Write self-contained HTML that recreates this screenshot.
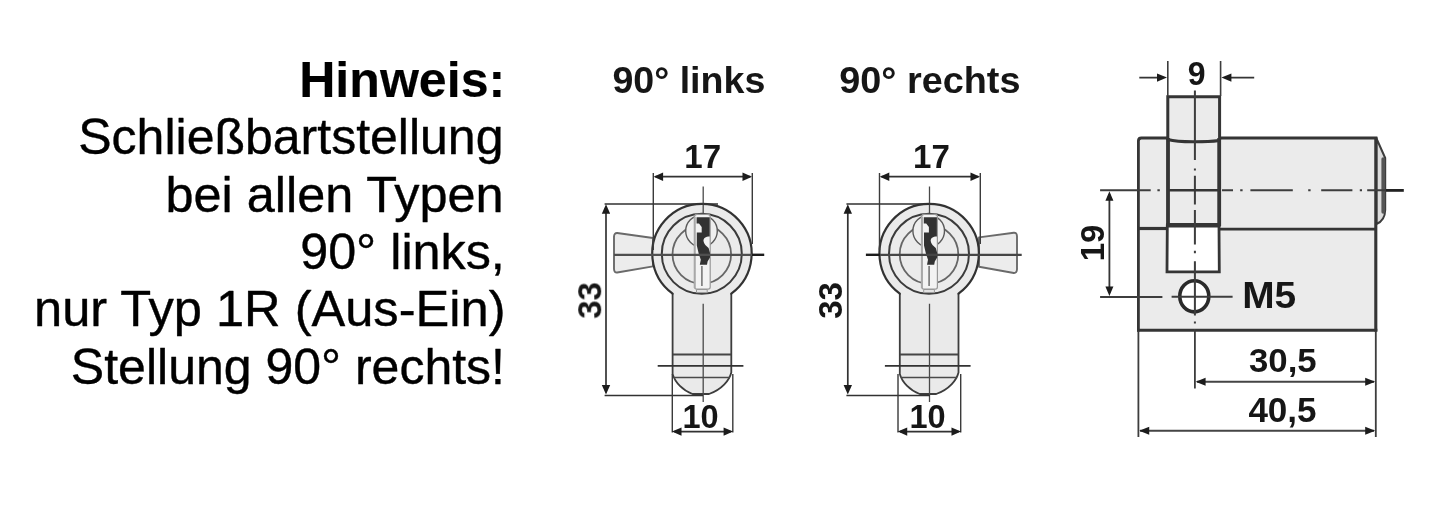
<!DOCTYPE html>
<html lang="de">
<head>
<meta charset="utf-8">
<title>Hinweis Schließbartstellung</title>
<style>
html,body{margin:0;padding:0;background:#fff;}
body{width:1429px;height:505px;overflow:hidden;}
svg{display:block;}
text{font-family:"Liberation Sans",sans-serif;fill:#161616;}
#note text{fill:#000;stroke:#000;stroke-width:0.4px;stroke-linejoin:round;}
#note text.b{stroke-width:0.15px;}
.b{font-weight:bold;}
</style>
</head>
<body>
<svg width="1429" height="505" viewBox="0 0 1429 505">
<defs>
<filter id="soft" x="0" y="0" width="1429" height="505" filterUnits="userSpaceOnUse"><feGaussianBlur stdDeviation="0.55"/></filter>
<filter id="soft2" x="0" y="0" width="1429" height="505" filterUnits="userSpaceOnUse"><feGaussianBlur stdDeviation="0.3"/></filter>
</defs>
<rect width="1429" height="505" fill="#fff"/>

<!-- ===== left note ===== -->
<g id="note" text-anchor="end" font-size="50" filter="url(#soft2)">
<text class="b" x="505.2" y="96.9" textLength="206" lengthAdjust="spacingAndGlyphs">Hinweis:</text>
<text x="503.5" y="153.9">Schließbartstellung</text>
<text x="503.5" y="211.5" textLength="338" lengthAdjust="spacingAndGlyphs">bei allen Typen</text>
<text x="504.8" y="268.7" textLength="204.6" lengthAdjust="spacingAndGlyphs">90° links,</text>
<text x="505.5" y="326.4" textLength="471.5" lengthAdjust="spacingAndGlyphs">nur Typ 1R (Aus-Ein)</text>
<text x="505" y="384.2">Stellung 90° rechts!</text>
</g>

<g id="drawings" filter="url(#soft)">
<!-- ===== drawing 1 : 90° links ===== -->
<text class="b" x="612.4" y="93.1" font-size="36.1" textLength="152.9" lengthAdjust="spacingAndGlyphs">90° links</text>
<g id="d1">
<path d="M653 238 L617.2 233 Q614.2 232.8 614 236.5 V269 Q614.2 272.8 617.2 272.5 L653 266.4 Z" fill="#ececec" stroke="#6a6a6a" stroke-width="1.9" stroke-linejoin="round"/>
<g transform="translate(0 0)">
  <path d="M672.6 293.6 A49.7 49.7 0 1 1 731.3 293.6 L731.3 372.5 C729.5 380 722 389.5 709 394 L692.5 394 C683 390.5 675 382.5 672.6 374 Z" fill="#eaeaea" stroke="none"/>
  <path d="M731.3 293.6 L731.3 372.5 C729.5 380 722 389.5 709 394 L692.5 394 C683 390.5 675 382.5 672.6 374 L672.6 293.6" fill="none" stroke="#3c3c3c" stroke-width="1.8" stroke-linejoin="round"/>
  <path d="M672.6 293.6 A49.7 49.7 0 1 1 731.3 293.6" fill="none" stroke="#333" stroke-width="2.2" stroke-linecap="round"/>
  <circle cx="701.8" cy="253.8" r="40" fill="#ebebeb" stroke="#3a3a3a" stroke-width="2"/>
  <circle cx="701.8" cy="254.3" r="29.3" fill="none" stroke="#666" stroke-width="1.8"/>
  <circle cx="701.5" cy="231" r="15.8" fill="#efefef" stroke="#5a5a5a" stroke-width="1.4"/>
  <path d="M694.6 216.5 Q694.6 214.3 697 214.3 H707.5 Q710.2 214.3 710.2 216.5 V287 Q710.2 289.2 708 289.2 H696.8 Q694.6 289.2 694.6 287 Z" fill="#f3f3f3" stroke="#989898" stroke-width="1.2"/>
  <path d="M694.7 217 V288" stroke="#a8a8a8" stroke-width="2" fill="none"/>
  <path d="M696.5 289.5 H707.2 V292.6 H696.5 Z" fill="#e2e2e2" stroke="#999" stroke-width="1"/>
  <path d="M701.9 266 V286" stroke="#777" stroke-width="1.6" fill="none"/>
  <path d="M696.6 217.3 H709.7 V236.5 C705.5 236.6 703.3 238.2 703.5 241 C703.7 244 706.5 246 708.6 248 L710 253 V257.5 L707.6 261.6 L707 264.8 H699.8 L700.8 259.8 L698.8 253.9 L696.8 245.5 V232.5 H701.7 V227 L699 223.5 H696.6 Z" fill="#333"/>
  <path d="M672.6 354.4 H731.3" stroke="#444" stroke-width="2"/>
  <path d="M674 377.5 H730" stroke="#4a4a4a" stroke-width="1.4"/>
  <path d="M657.7 365.8 H743.4" stroke="#333" stroke-width="1.7"/>
  <path d="M703.2 186.5 V214 M703.2 303.8 V402" stroke="#4a4a4a" stroke-width="1.3" fill="none"/>
</g>
<path d="M614 254.8 H752" stroke="#505050" stroke-width="2.2"/><path d="M752 254.8 H764.2" stroke="#1a1a1a" stroke-width="2.4"/>
<path d="M653.3 173 V250 M752.3 173 V244" stroke="#3a3a3a" stroke-width="1.4" fill="none"/>
<path d="M655.3 176.7 H750.3" stroke="#333" stroke-width="1.7"/>
<path d="M653.5999999999999 176.7 l9.5 -4.2 v8.4 z M752.0 176.7 l-9.5 -4.2 v8.4 z" fill="#1c1c1c"/>
<path d="M604.6 203.9 H718 M604.6 395.4 H703" stroke="#333" stroke-width="1.5" fill="none"/>
<path d="M606 207 V391" stroke="#333" stroke-width="1.7"/>
<path d="M606 204.3 l-4.2 9.5 h8.4 z M606 394.6 l-4.2 -9.5 h8.4 z" fill="#1c1c1c"/>
<path d="M672.3 374 V432.5 M732.8 374 V432.5" stroke="#3a3a3a" stroke-width="1.4" fill="none"/>
<path d="M674.3 431.6 H730.8" stroke="#333" stroke-width="1.7"/>
<path d="M672.0 431.6 l9.5 -4.2 v8.4 z M733.0999999999999 431.6 l-9.5 -4.2 v8.4 z" fill="#1c1c1c"/>
<text class="b" x="702.7" y="168.4" font-size="34" text-anchor="middle" textLength="36.8" lengthAdjust="spacingAndGlyphs">17</text>
<text class="b" x="700.6" y="428.1" font-size="32.5" text-anchor="middle">10</text>
<text class="b" font-size="34" text-anchor="middle" textLength="36.7" lengthAdjust="spacingAndGlyphs" transform="translate(601.2 300.5) rotate(-90)">33</text>
</g>

<!-- ===== drawing 2 : 90° rechts ===== -->
<text class="b" x="839.2" y="93.1" font-size="36.1" textLength="181.3" lengthAdjust="spacingAndGlyphs">90° rechts</text>
<g id="d2">
<path d="M979 237.4 L1013.8 232.7 Q1016.8 232.5 1017 236.2 V269.3 Q1016.8 273.2 1013.8 273 L979 266.8 Z" fill="#ececec" stroke="#6a6a6a" stroke-width="1.9" stroke-linejoin="round"/>
<g transform="translate(227.2 0)">
  <path d="M672.6 293.6 A49.7 49.7 0 1 1 731.3 293.6 L731.3 372.5 C729.5 380 722 389.5 709 394 L692.5 394 C683 390.5 675 382.5 672.6 374 Z" fill="#eaeaea" stroke="none"/>
  <path d="M731.3 293.6 L731.3 372.5 C729.5 380 722 389.5 709 394 L692.5 394 C683 390.5 675 382.5 672.6 374 L672.6 293.6" fill="none" stroke="#3c3c3c" stroke-width="1.8" stroke-linejoin="round"/>
  <path d="M672.6 293.6 A49.7 49.7 0 1 1 731.3 293.6" fill="none" stroke="#333" stroke-width="2.2" stroke-linecap="round"/>
  <circle cx="701.8" cy="253.8" r="40" fill="#ebebeb" stroke="#3a3a3a" stroke-width="2"/>
  <circle cx="701.8" cy="254.3" r="29.3" fill="none" stroke="#666" stroke-width="1.8"/>
  <circle cx="701.5" cy="231" r="15.8" fill="#efefef" stroke="#5a5a5a" stroke-width="1.4"/>
  <path d="M694.6 216.5 Q694.6 214.3 697 214.3 H707.5 Q710.2 214.3 710.2 216.5 V287 Q710.2 289.2 708 289.2 H696.8 Q694.6 289.2 694.6 287 Z" fill="#f3f3f3" stroke="#989898" stroke-width="1.2"/>
  <path d="M694.7 217 V288" stroke="#a8a8a8" stroke-width="2" fill="none"/>
  <path d="M696.5 289.5 H707.2 V292.6 H696.5 Z" fill="#e2e2e2" stroke="#999" stroke-width="1"/>
  <path d="M701.9 266 V286" stroke="#777" stroke-width="1.6" fill="none"/>
  <path d="M696.6 217.3 H709.7 V236.5 C705.5 236.6 703.3 238.2 703.5 241 C703.7 244 706.5 246 708.6 248 L710 253 V257.5 L707.6 261.6 L707 264.8 H699.8 L700.8 259.8 L698.8 253.9 L696.8 245.5 V232.5 H701.7 V227 L699 223.5 H696.6 Z" fill="#333"/>
  <path d="M672.6 354.4 H731.3" stroke="#444" stroke-width="2"/>
  <path d="M674 377.5 H730" stroke="#4a4a4a" stroke-width="1.4"/>
  <path d="M657.7 365.8 H743.4" stroke="#333" stroke-width="1.7"/>
  <path d="M702.3 186.5 V214 M702.3 303.8 V402" stroke="#4a4a4a" stroke-width="1.3" fill="none"/>
</g>
<path d="M865.9 254.8 H880" stroke="#1a1a1a" stroke-width="2.4"/><path d="M880 254.8 H1021.7" stroke="#444" stroke-width="2.2"/>
<path d="M879.5 173 V250 M980.3 173 V244" stroke="#3a3a3a" stroke-width="1.4" fill="none"/>
<path d="M881.5 176.7 H978.3" stroke="#333" stroke-width="1.7"/>
<path d="M879.8 176.7 l9.5 -4.2 v8.4 z M980.0 176.7 l-9.5 -4.2 v8.4 z" fill="#1c1c1c"/>
<path d="M846.4 203.9 H932 M846.4 395.4 H930" stroke="#333" stroke-width="1.5" fill="none"/>
<path d="M847.8 207 V391" stroke="#333" stroke-width="1.7"/>
<path d="M847.8 204.3 l-4.2 9.5 h8.4 z M847.8 394.6 l-4.2 -9.5 h8.4 z" fill="#1c1c1c"/>
<path d="M898 374 V432.5 M960.7 374 V432.5" stroke="#3a3a3a" stroke-width="1.4" fill="none"/>
<path d="M900 431.6 H958.7" stroke="#333" stroke-width="1.7"/>
<path d="M897.7 431.6 l9.5 -4.2 v8.4 z M961.0 431.6 l-9.5 -4.2 v8.4 z" fill="#1c1c1c"/>
<text class="b" x="931.5" y="168.4" font-size="34" text-anchor="middle" textLength="36.8" lengthAdjust="spacingAndGlyphs">17</text>
<text class="b" x="927.6" y="428.1" font-size="32.5" text-anchor="middle">10</text>
<text class="b" font-size="34" text-anchor="middle" textLength="36.7" lengthAdjust="spacingAndGlyphs" transform="translate(842.3 300.5) rotate(-90)">33</text>
</g>

<!-- ===== drawing 3 : side view ===== -->
<g id="d3">
  <!-- body -->
  <path d="M1138.4 141 Q1138.4 138 1141.4 138 H1376 V330.2 H1138.4 Z" fill="#ebebeb"/>
  <!-- end cap -->
  <path d="M1376.5 138.5 L1385.2 158 V210 Q1385 220.5 1376.5 224 Z" fill="#dcdcdc" stroke="#3c3c3c" stroke-width="2" stroke-linejoin="round"/>
  <path d="M1383.2 159 V212" stroke="#555" stroke-width="3.6" stroke-linecap="round"/>
  <!-- cam top -->
  <rect x="1168" y="97" width="51.5" height="43" fill="#ebebeb"/>
  <path d="M1167.8 140 V96.7 H1219.6 V140" fill="none" stroke="#343434" stroke-width="3"/>
  <!-- body outline -->
  <path d="M1138.4 331.5 V141 Q1138.4 138 1141.4 138 H1167 M1220.5 138 H1377.4" fill="none" stroke="#343434" stroke-width="2.8"/>
  <path d="M1137 330.2 H1377.3" stroke="#343434" stroke-width="3"/>
  <path d="M1375.8 137 V331.5" stroke="#343434" stroke-width="3.1"/>
  <!-- cam in body -->
  <path d="M1168 138 V226 M1219.2 138 V226" stroke="#343434" stroke-width="3.8" fill="none"/>
  <path d="M1167.8 139.5 C1180 142.6 1205 142.4 1219.4 140.4" stroke="#343434" stroke-width="3" fill="none"/>
  <path d="M1138.4 228.5 H1168" stroke="#343434" stroke-width="3.2"/>
  <path d="M1219.2 229.2 H1376" stroke="#343434" stroke-width="2.7"/>
  <path d="M1167.3 226 L1167 271.8 H1219.3 L1219 226 Z" fill="#fff" stroke="#343434" stroke-width="2.8" stroke-linejoin="miter"/>
  <path d="M1166.3 224.7 H1221" stroke="#343434" stroke-width="3.4"/>
  <!-- hole -->
  <ellipse cx="1194.3" cy="296.3" rx="14.5" ry="15.6" fill="#fff" stroke="#2a2a2a" stroke-width="3.6"/>
  <!-- centre lines -->
  <path d="M1194.9 90.5 V160 M1194.9 168.4 V170.4 M1194.9 175.7 V204.4 M1194.9 209.9 V244.5 M1194.9 250.7 V253.2 M1194.9 261.3 V315.5 M1194.9 321.4 V323.4" stroke="#3c3c3c" stroke-width="2" fill="none"/>
  <path d="M1194.9 329 V388.5" stroke="#3c3c3c" stroke-width="1.8" fill="none"/>
  <path d="M1100.1 190.2 H1150.7 M1157.4 190.2 H1159.8 M1222 190.2 H1233 M1240.2 190.2 H1242.6 M1250.4 190.2 H1292.8 M1308.2 190.2 H1310.6 M1321.2 190.2 H1352.4 M1359.8 190.2 H1362 M1367.2 190.2 H1386" stroke="#3c3c3c" stroke-width="2" fill="none"/>
  <path d="M1168 190.2 H1219.2" stroke="#343434" stroke-width="2.6"/>
  <path d="M1386 190.4 H1403.8" stroke="#222" stroke-width="2.8"/>
  <path d="M1100.1 296.9 H1162.4 M1171.6 296.7 H1232.6" stroke="#3c3c3c" stroke-width="2" fill="none"/>
  <!-- dim 9 -->
  <path d="M1167.8 61 V96 M1220.6 61 V96" stroke="#3c3c3c" stroke-width="1.6" fill="none"/>
  <path d="M1139.3 77.6 H1160 M1229 77.6 H1254.2" stroke="#343434" stroke-width="1.8" fill="none"/>
  <path d="M1167 77.6 l-10 -4.2 v8.4 z M1221.4 77.6 l10 -4.2 v8.4 z" fill="#1c1c1c"/>
  <!-- dim 19 -->
  <path d="M1109.4 194 V293" stroke="#343434" stroke-width="1.8"/>
  <path d="M1109.4 191.2 l-4 9.5 h8 z M1109.4 296 l-4 -9.5 h8 z" fill="#1c1c1c"/>
  <!-- dims 30,5 / 40,5 -->
  <path d="M1138.4 331 V437 M1375.8 331 V437" stroke="#3c3c3c" stroke-width="1.8" fill="none"/>
  <path d="M1197 381.8 H1374 M1140 430.8 H1374" stroke="#444" stroke-width="1.9" fill="none"/>
  <path d="M1195.6 381.8 l10 -4 v8 z M1375.2 381.8 l-10 -4 v8 z M1139.2 430.8 l10 -4 v8 z M1375.2 430.8 l-10 -4 v8 z" fill="#1c1c1c"/>
</g>
<text class="b" x="1196.6" y="85" font-size="34" text-anchor="middle" textLength="17.8" lengthAdjust="spacingAndGlyphs">9</text>
<text class="b" x="1242.2" y="308.3" font-size="36.6" textLength="54" lengthAdjust="spacingAndGlyphs">M5</text>
<text class="b" x="1249" y="372.3" font-size="34" textLength="67.6" lengthAdjust="spacingAndGlyphs">30,5</text>
<text class="b" x="1248.4" y="421.9" font-size="34.6" textLength="68.2" lengthAdjust="spacingAndGlyphs">40,5</text>
<text class="b" font-size="34" text-anchor="middle" textLength="36.7" lengthAdjust="spacingAndGlyphs" transform="translate(1103.8 243) rotate(-90)">19</text>

</g>
</svg>
</body>
</html>
